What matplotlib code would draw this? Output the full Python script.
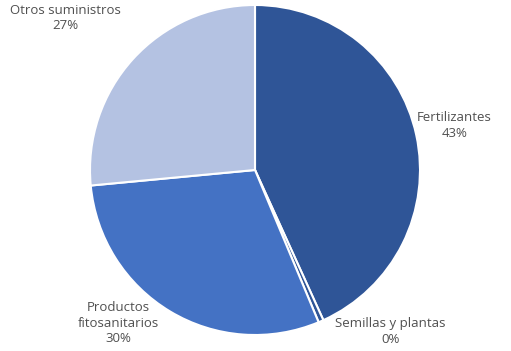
import numpy as np
import matplotlib.pyplot as plt

labels = ["Fertilizantes", "Semillas y plantas", "Productos\nfitosanitarios", "Otros suministros"]
values = [43.2, 0.5, 29.8, 26.5]
shown_pct = ["43%", "0%", "30%", "27%"]
colors = ["#2F5597", "#2F5597", "#4472C4", "#B4C2E2"]

# label placement in data units (pie radius = 1)
label_pos = [(1.21, 0.27), (0.82, -0.98), (-0.83, -0.93), (-1.15, 0.92)]

fig = plt.figure(figsize=(5.11, 3.51), dpi=100)
ax = fig.add_axes([0, 0, 1, 1])

r_px = 165
cx, cy = 255, 170
ax.pie(values, colors=colors, startangle=90, counterclock=False, radius=1,
       wedgeprops=dict(edgecolor="white", linewidth=1.5))
ax.set_xlim(-cx / r_px, (511 - cx) / r_px)
ax.set_ylim(-(351 - cy) / r_px, cy / r_px)
ax.set_aspect("auto")
ax.axis("off")

for lab, pct, (x, y) in zip(labels, shown_pct, label_pos):
    ax.text(x, y, lab + "\n" + pct, ha="center", va="center", fontsize=9.5,
            color="#505050", family="Open Sans", linespacing=1.25)

fig.savefig("out.png", dpi=100)
